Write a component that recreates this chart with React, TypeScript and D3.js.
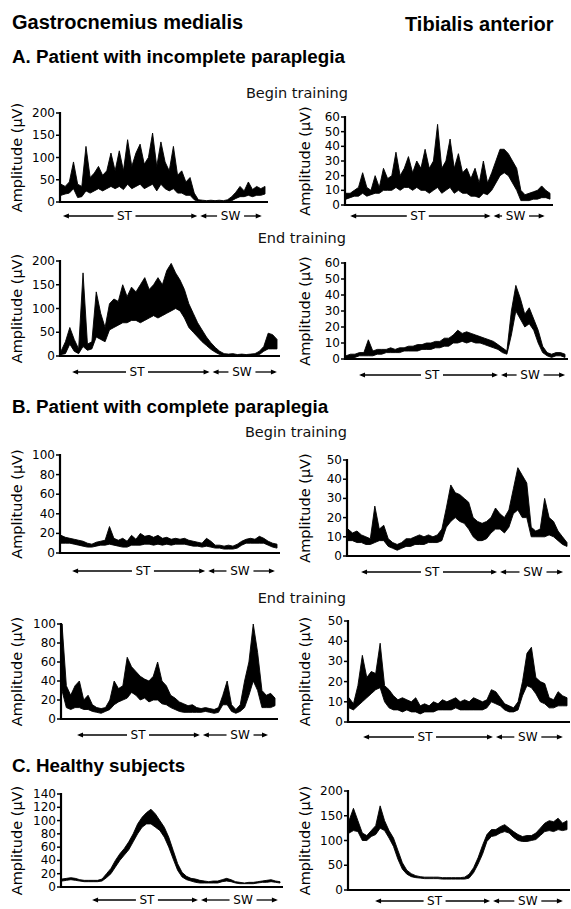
import React from 'react';
import * as d3 from 'd3';

// ---------- DATA (EMG envelope, upper / lower edge of the trace, 50 samples per gait cycle) ----------
const gmIncBeginHi = [40,35,45,90,40,35,125,55,65,80,60,70,110,70,115,70,140,80,110,130,85,100,155,80,135,90,70,125,60,70,45,55,20,5,4,3,4,3,4,3,5,12,22,35,25,45,28,35,30,35];
const gmIncBeginLo = [15,18,20,30,10,12,25,20,25,30,25,30,35,30,35,28,40,30,35,40,30,35,40,25,40,30,25,30,20,20,15,15,5,1,1,0,1,0,1,0,1,3,8,12,12,15,12,15,15,18];

const taIncBeginHi = [8,8,10,12,22,12,10,20,12,25,18,20,36,20,25,33,22,30,25,38,25,30,55,25,30,45,25,35,22,25,18,25,15,30,15,22,30,38,38,35,30,25,10,7,8,9,10,13,10,8];
const taIncBeginLo = [4,5,6,6,8,6,7,8,8,10,10,10,12,10,12,12,10,12,10,10,8,10,12,8,10,12,8,10,8,8,6,6,5,8,7,10,15,20,22,20,15,10,3,3,3,4,4,5,5,4];

const gmIncEndHi = [10,30,60,35,15,175,25,30,135,90,60,110,120,115,150,125,145,135,150,165,140,150,165,150,180,195,175,160,140,110,90,70,55,40,28,18,10,5,4,5,3,4,3,4,5,10,20,48,45,35];
const gmIncEndLo = [3,5,25,10,5,20,12,15,40,35,30,55,60,65,70,70,75,75,70,75,80,85,80,85,90,95,100,95,80,60,50,40,30,22,14,8,3,0,0,1,0,1,0,1,1,3,10,15,15,15];

const taIncEndHi = [2,3,3,4,4,12,5,6,6,6,7,6,7,7,8,8,9,9,10,10,11,11,13,13,15,18,16,17,16,15,14,13,12,11,9,7,5,30,46,38,28,32,25,18,8,4,3,4,4,3];
const taIncEndLo = [0,0,1,2,2,2,2,3,3,4,4,4,4,5,5,5,5,6,6,6,7,7,8,8,10,10,11,10,11,10,10,9,8,7,6,4,3,15,30,25,20,22,18,10,4,2,1,2,2,1];

const gmComBeginHi = [18,16,15,14,13,12,10,9,11,12,13,27,15,13,15,12,18,14,20,17,18,16,18,15,16,14,15,14,15,13,12,11,10,15,12,8,8,7,8,7,9,12,14,15,14,17,15,12,10,9];
const gmComBeginLo = [10,10,10,9,8,7,6,6,7,8,8,9,8,7,6,6,8,8,8,9,9,8,9,8,9,8,9,9,9,8,7,7,6,7,6,5,5,4,4,4,5,8,10,10,10,10,10,8,6,5];

const taComBeginHi = [14,12,13,11,10,9,26,14,16,9,7,6,7,9,9,10,11,10,11,10,11,14,25,37,33,32,30,28,20,18,17,18,20,25,22,20,24,35,46,42,38,15,13,14,30,20,18,13,10,7];
const taComBeginLo = [8,8,7,7,6,6,7,8,8,5,4,3,4,5,5,6,6,6,7,7,7,8,15,18,20,18,17,14,10,8,8,9,12,14,14,12,15,22,24,20,20,10,10,10,10,11,10,8,6,5];

const gmComEndHi = [100,35,25,35,40,20,25,15,12,11,12,20,40,32,35,65,55,50,45,42,40,45,60,40,35,25,22,18,16,14,15,12,11,12,11,10,12,25,40,15,10,15,40,60,100,70,30,25,27,22];
const gmComEndLo = [30,12,10,12,12,10,10,8,7,6,8,10,15,18,20,22,28,25,20,22,18,20,20,16,15,12,10,8,7,7,7,7,7,8,7,6,7,15,15,8,6,8,12,25,40,30,12,12,12,14];

const taComEndHi = [12,9,18,33,22,25,24,39,18,16,13,11,12,11,10,12,8,9,8,10,9,11,10,11,12,10,11,10,12,11,10,11,16,15,12,9,8,7,10,20,34,37,22,20,19,12,11,15,13,12];
const taComEndLo = [7,6,8,10,12,14,16,17,10,7,6,6,5,6,5,5,4,5,5,5,6,6,6,6,7,6,6,6,6,6,6,7,10,9,8,6,5,5,6,13,18,17,14,10,9,7,7,8,8,8];

const gmHealthyHi = [12,13,14,13,11,10,10,10,10,12,20,28,40,50,58,68,80,95,105,112,117,110,100,90,75,55,35,22,16,13,12,10,9,8,9,9,11,13,11,8,7,6,7,7,8,9,10,11,9,8];
const gmHealthyLo = [9,10,11,10,9,8,8,8,8,9,14,20,30,40,48,56,68,80,90,95,95,90,85,75,60,42,25,15,11,9,7,6,6,6,6,6,8,9,8,6,5,5,5,5,6,7,7,8,7,6];

const taHealthyHi = [140,165,140,115,110,120,130,170,140,120,105,80,55,40,33,29,27,26,26,26,26,25,25,25,25,25,26,32,45,65,90,112,122,122,128,132,125,118,112,108,110,110,115,125,135,140,138,145,135,140];
const taHealthyLo = [115,120,118,100,100,108,112,125,120,105,88,62,42,32,27,25,24,23,23,23,23,22,22,22,22,22,22,24,35,52,72,98,108,110,115,118,115,106,100,98,98,100,102,110,118,120,118,122,120,122];

const ticksGmA = [0, 50, 100, 150, 200];
const ticksTaA = [0, 10, 20, 30, 40, 50, 60];
const ticksGmB = [0, 20, 40, 60, 80, 100];
const ticksTaB = [0, 10, 20, 30, 40, 50];
const ticksGmC = [0, 20, 40, 60, 80, 100, 120, 140];
const ticksTaC = [0, 50, 100, 150, 200];

const phaseNames = ['ST', 'SW'];
const yLabel = 'Amplitude (\u00B5V)';

// ---------- LAYOUT ----------
type Panel = {
  hi: number[]; lo: number[]; ticks: number[];
  ax: number; end: number; top: number; zero: number;
  arrowY: number; phase: [number, number, number]; lab: [number, number]; labelX: number;
};

const panels: Panel[] = [
  { hi: gmIncBeginHi, lo: gmIncBeginLo, ticks: ticksGmA, ax: 60, end: 268, top: 113, zero: 202, arrowY: 216, phase: [0.014, 0.66, 0.97], lab: [0.31, 0.82], labelX: 17 },
  { hi: taIncBeginHi, lo: taIncBeginLo, ticks: ticksTaA, ax: 345, end: 553, top: 117, zero: 205, arrowY: 216, phase: [0.025, 0.70, 0.96], lab: [0.35, 0.82], labelX: 305 },
  { hi: gmIncEndHi, lo: gmIncEndLo, ticks: ticksGmA, ax: 60, end: 280, top: 261, zero: 356, arrowY: 372, phase: [0.055, 0.68, 0.986], lab: [0.35, 0.827], labelX: 17 },
  { hi: taIncEndHi, lo: taIncEndLo, ticks: ticksTaA, ax: 345, end: 568, top: 263, zero: 359, arrowY: 375, phase: [0.063, 0.686, 0.987], lab: [0.39, 0.83], labelX: 305 },
  { hi: gmComBeginHi, lo: gmComBeginLo, ticks: ticksGmB, ax: 60, end: 280, top: 455, zero: 553, arrowY: 571, phase: [0.055, 0.66, 0.977], lab: [0.377, 0.818], labelX: 17 },
  { hi: taComBeginHi, lo: taComBeginLo, ticks: ticksTaB, ax: 347, end: 570, top: 460, zero: 556, arrowY: 572, phase: [0.063, 0.673, 0.969], lab: [0.381, 0.834], labelX: 305 },
  { hi: gmComEndHi, lo: gmComEndLo, ticks: ticksGmB, ax: 61, end: 278, top: 624, zero: 719, arrowY: 735, phase: [0.074, 0.64, 0.954], lab: [0.355, 0.825], labelX: 17 },
  { hi: taComEndHi, lo: taComEndLo, ticks: ticksTaB, ax: 348, end: 570, top: 621, zero: 722, arrowY: 737, phase: [0.068, 0.653, 0.968], lab: [0.347, 0.81], labelX: 305 },
  { hi: gmHealthyHi, lo: gmHealthyLo, ticks: ticksGmC, ax: 61, end: 283, top: 794, zero: 887, arrowY: 900, phase: [0.14, 0.617, 0.977], lab: [0.387, 0.82], labelX: 17 },
  { hi: taHealthyHi, lo: taHealthyLo, ticks: ticksTaC, ax: 348, end: 570, top: 791, zero: 890, arrowY: 901, phase: [0.122, 0.64, 0.968], lab: [0.39, 0.81], labelX: 305 },
];

const headers = [
  { text: 'Gastrocnemius medialis', x: 12, y: 29, size: 20, anchor: 'start' },
  { text: 'Tibialis anterior', x: 405, y: 31, size: 20, anchor: 'start' },
  { text: 'A. Patient with incomplete paraplegia', x: 12, y: 63, size: 18.8, anchor: 'start' },
  { text: 'B. Patient with complete paraplegia', x: 12, y: 413, size: 18.8, anchor: 'start' },
  { text: 'C. Healthy subjects', x: 12, y: 772, size: 18.8, anchor: 'start' },
];
const subheads = [
  { text: 'Begin training', x: 348, y: 98 },
  { text: 'End training', x: 346, y: 243 },
  { text: 'Begin training', x: 347, y: 437 },
  { text: 'End training', x: 346, y: 603 },
];

function head(x: number, y: number, dir: number) {
  // small filled arrowhead with tip at (x,y), pointing dir (+1 right, -1 left)
  const L = 6, H = 2.4;
  return `M${x},${y}L${x - dir * L},${y - H}L${x - dir * L},${y + H}Z`;
}

function PhaseArrow({ p }: { p: Panel }) {
  const c = d3.scaleLinear().domain([0, 1]).range([p.ax, p.end]);
  const [a, b, e] = p.phase.map(c);
  const [st, sw] = p.lab.map(c);
  const y = p.arrowY;
  const gST = 11, gSW = 13.5;
  const b2 = b + 3;
  const lines = [
    [a + 2, st - gST], [st + gST, b - 2], [b2 + 2, sw - gSW], [sw + gSW, e - 2],
  ];
  return (
    <g>
      {lines.map(([x1, x2], i) => (
        <line key={i} x1={x1} x2={x2} y1={y} y2={y} stroke="#000" strokeWidth={1.3} />
      ))}
      <path d={head(a, y, -1) + head(b, y, 1) + head(b2, y, -1) + head(e, y, 1)} fill="#000" />
      <text x={st} y={y} fontSize={12} textAnchor="middle" dominantBaseline="central">{phaseNames[0]}</text>
      <text x={sw} y={y} fontSize={12} textAnchor="middle" dominantBaseline="central">{phaseNames[1]}</text>
    </g>
  );
}

function EmgPanel({ p }: { p: Panel }) {
  const maxV = p.ticks[p.ticks.length - 1];
  const y = d3.scaleLinear().domain([0, maxV]).range([p.zero, p.top]);
  const x = d3.scaleLinear().domain([0, p.hi.length - 1]).range([p.ax + 1, p.end - 3]);
  const area = d3.area<number>()
    .x((_, i) => x(i))
    .y0((_, i) => y(p.lo[i]))
    .y1((d) => y(d))
    .curve(d3.curveLinear);
  return (
    <g>
      <path d={area(p.hi) || ''} fill="#000" stroke="#000" strokeWidth={0.9} strokeLinejoin="miter" />
      <line x1={p.ax} x2={p.end} y1={p.zero} y2={p.zero} stroke="#000" strokeWidth={2.2} />
      <line x1={p.ax} x2={p.ax} y1={p.top - 1} y2={p.zero + 1} stroke="#000" strokeWidth={2.2} />
      {p.ticks.map((t) => (
        <g key={t}>
          <line x1={p.ax - 4} x2={p.ax} y1={y(t)} y2={y(t)} stroke="#000" strokeWidth={1.5} />
          <text x={p.ax - 5} y={y(t)} fontSize={12} textAnchor="end" dominantBaseline="central">{t}</text>
        </g>
      ))}
      <text
        transform={`translate(${p.labelX},${(p.top + p.zero) / 2}) rotate(-90)`}
        fontSize={14.5} textAnchor="middle" dominantBaseline="central"
      >{yLabel}</text>
      <PhaseArrow p={p} />
    </g>
  );
}

export default function App() {
  return (
    <svg width={571} height={909} viewBox="0 0 571 909"
      style={{ position: 'absolute', left: 0, top: 0, background: '#fff' }}
      fontFamily="'DejaVu Sans', sans-serif" fill="#000">
      <rect x={0} y={0} width={571} height={909} fill="#fff" />
      {headers.map((h, i) => (
        <text key={i} x={h.x} y={h.y} fontSize={h.size} fontWeight="bold"
          fontFamily="'Liberation Sans', Arial, sans-serif" textAnchor={h.anchor as any}>{h.text}</text>
      ))}
      {subheads.map((s, i) => (
        <text key={i} x={s.x} y={s.y} fontSize={14.5} textAnchor="end" fill="#111">{s.text}</text>
      ))}
      {panels.map((p, i) => <EmgPanel key={i} p={p} />)}
    </svg>
  );
}
